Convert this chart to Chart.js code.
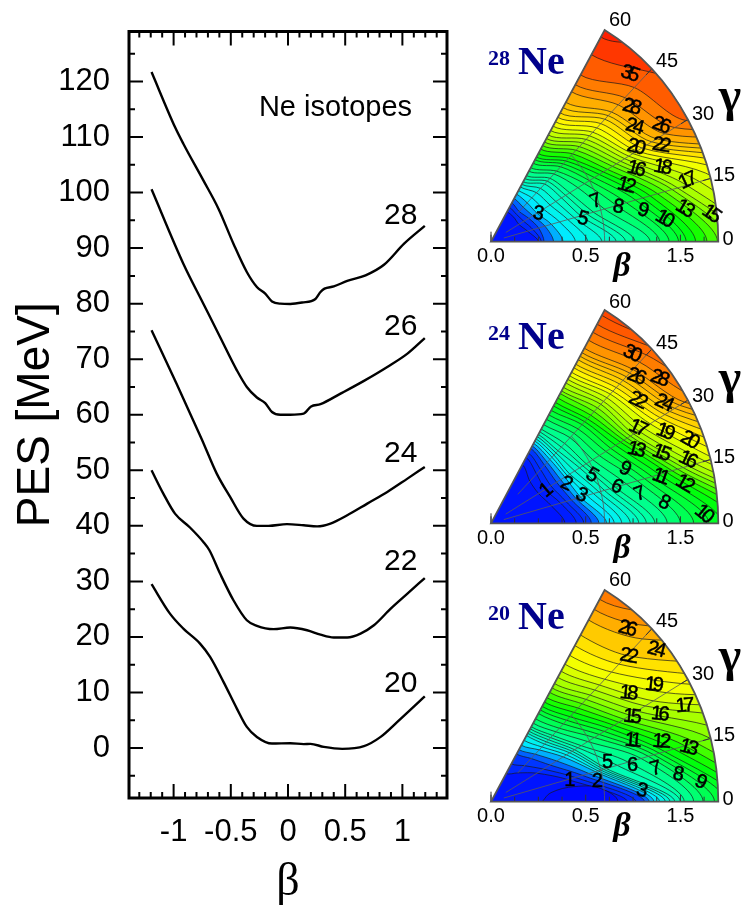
<!DOCTYPE html>
<html>
<head>
<meta charset="utf-8">
<script src="https://cdn.jsdelivr.net/npm/chart.js@4"></script>
<style>
  html, body { margin: 0; padding: 0; background: #fff; }
  #page { position: relative; width: 744px; height: 906px; overflow: hidden; }
  canvas { position: absolute; }
</style>
</head>
<body>
<div id="page">
  <canvas id="pes" width="460" height="906" style="left:0;top:0"></canvas>
  <canvas id="ne28" width="274" height="277" style="left:470px;top:5px"></canvas>
  <canvas id="ne24" width="274" height="278" style="left:470px;top:285px"></canvas>
  <canvas id="ne20" width="274" height="277" style="left:470px;top:565px"></canvas>
</div>
<script>
// left panel, PES curves (beta, MeV)
const beta28 = [-1.193,-0.988,-0.915,-0.74,-0.608,-0.477,-0.36,-0.272,-0.199,-0.14,-0.067,0.02,0.123,0.24,0.284,0.319,0.4,0.518,0.678,0.839,1.015,1.196];
const pes28 = [121.7,111.8,108.8,102.2,97.1,90.8,85.7,83,81.8,80.4,80,79.95,80.2,80.85,82.1,82.7,83.1,84.1,85.1,87,90.8,94];
const beta26 = [-1.193,-0.915,-0.74,-0.594,-0.447,-0.36,-0.272,-0.199,-0.14,-0.067,0.02,0.137,0.202,0.284,0.459,0.664,0.868,1.044,1.196];
const pes26 = [100.6,87.2,80,74,68,65,63.1,62.1,60.5,60,60,60.2,61.5,61.9,63.8,66.1,68.6,71,73.8];
const beta24 = [-1.193,-0.974,-0.754,-0.623,-0.506,-0.389,-0.272,-0.17,-0.009,0.137,0.254,0.371,0.518,0.693,0.868,1.044,1.196];
const pes24 = [75.2,65.6,55.6,49.4,45.2,41.3,40,40,40.3,40.1,39.9,40.4,41.9,44,46.1,48.5,50.6];
const beta22 = [-1.193,-1.09,-0.988,-0.857,-0.74,-0.687,-0.594,-0.477,-0.36,-0.272,-0.126,0.02,0.167,0.284,0.4,0.518,0.634,0.751,0.898,1.044,1.196];
const pes22 = [50,45.8,42.2,39.7,37.1,35.6,31.4,26.6,23,22,21.4,21.7,21.2,20.4,19.9,19.9,20.6,22.1,25.1,27.8,30.6];
const beta20 = [-1.193,-1.032,-0.915,-0.769,-0.681,-0.564,-0.447,-0.36,-0.272,-0.14,0.02,0.137,0.196,0.313,0.474,0.664,0.81,0.956,1.196];
const pes20 = [29.5,24.2,21.5,18.8,16.4,11.9,7.1,3.8,2,0.8,0.87,0.7,0.75,0.2,-0.15,0.33,2,4.7,9.3];
const curveNames = ['28','26','24','22','20'];
const curveNameY = [95.9,75.9,52.9,33.6,11.5];

// right panels: beta where each contour level crosses the rays of gammaRays
const gammaRays = [0,15,30,45,60];
const ne28Levels = [1,1.5,2,2.5,3,3.5,4,4.5,5,5.5,6,7,8,9,10,11,12,13,14,15,16,17,18,19,20,21,22,23,24,26,28,30,35,40];
const ne28Beta = [
  [.25,.2,.17,.17,.17],[.265,.23,.2,.19,.195],[.28,.26,.23,.21,.22],[.33,.295,.255,.24,.245],[.38,.33,.28,.27,.27],
  [.445,.375,.32,.305,.29],[.51,.42,.36,.34,.31],[.585,.455,.395,.37,.325],[.66,.49,.43,.4,.34],[.71,.525,.455,.42,.358],
  [.76,.56,.48,.44,.375],[.84,.62,.53,.47,.4],[.89,.686,.57,.49,.42],[.94,.74,.6,.52,.445],[.99,.79,.63,.54,.465],
  [1.03,.83,.66,.56,.48],[1.08,.87,.685,.58,.5],[1.14,.91,.71,.61,.525],[1.196,.95,.74,.635,.545],[1.26,.99,.765,.66,.565],
  [1.32,1.02,.79,.685,.585],[1.38,1.07,.815,.71,.605],[1.45,1.14,.84,.735,.63],[1.52,1.22,.865,.76,.655],[1.6,1.3,.89,.79,.68],
  [1.7,1.38,.92,.82,.705],[1.8,1.46,.95,.85,.73],[1.9,1.54,.98,.875,.76],[2,1.62,1.01,.9,.79],[2.2,1.8,1.06,.95,.85],
  [2.4,2,1.12,1,.89],[2.6,2.2,1.19,1.07,.945],[3.1,2.7,1.5,1.18,1.06],[3.6,3.2,1.9,1.4,1.16]
];
const ne28Labels = [['35',1.1,48.7,20],['28',.99,42,15],['24',.94,37,15],['26',1.06,32.7,20],['20',.89,31.5,15],['22',1.01,28,10],
  ['16',.84,25.3,15],['18',.97,22.2,10],['12',.76,21.4,15],['17',1.074,16,-25],['7',.58,19.6,-20],['8',.686,14.5,10],
  ['9',.81,11,15],['10',.917,7.2,30],['13',1.03,9.2,30],['15',1.165,6.9,35],['3',.278,30,10],['5',.49,13.5,15]];

const ne24Levels = [.5,1,1.5,2,2.5,3,3.5,4,4.5,5,5.5,6,7,8,9,10,11,12,13,14,15,16,17,18,19,20,21,22,23,24,25,26,28,30,32,34];
const ne24Beta = [
  [.39,.33,.29,.29,.33],[.45,.38,.33,.34,.37],[.49,.41,.365,.37,.395],[.53,.44,.4,.4,.42],[.57,.465,.425,.42,.435],[.61,.49,.45,.44,.45],
  [.65,.525,.465,.455,.463],[.69,.56,.48,.47,.475],[.735,.59,.51,.485,.488],[.78,.62,.54,.5,.5],[.82,.65,.56,.525,.515],
  [.865,.68,.58,.55,.53],[.93,.74,.62,.59,.555],[1,.8,.66,.62,.585],[1.07,.84,.7,.65,.61],[1.15,.88,.73,.68,.635],
  [1.22,.92,.76,.7,.66],[1.3,.96,.79,.72,.68],[1.38,.99,.81,.745,.705],[1.45,1.02,.83,.77,.73],[1.53,1.05,.85,.795,.745],
  [1.6,1.08,.87,.82,.765],[1.7,1.12,.9,.84,.79],[1.8,1.17,.93,.865,.81],[1.9,1.22,.97,.89,.83],[2,1.28,1,.91,.85],
  [2.1,1.35,1.03,.935,.875],[2.2,1.42,1.06,.96,.895],[2.3,1.5,1.09,.985,.92],[2.4,1.58,1.12,1.01,.94],[2.5,1.67,1.15,1.035,.96],
  [2.6,1.76,1.18,1.06,.985],[2.8,1.95,1.24,1.11,1.03],[3,2.2,1.32,1.16,1.075],[3.2,2.4,1.42,1.21,1.12],[3.4,2.6,1.55,1.26,1.17]
];
const ne24Labels = [['1',.325,28.6,-40],['2',.437,26.7,25],['3',.49,16.5,25],['5',.577,24.3,30],['6',.68,15.4,25],['7',.79,10.1,-20],
  ['8',.913,6.5,25],['9',.749,20.9,25],['11',.918,14.4,20],['12',1.035,10.9,30],['13',.841,25.3,15],['15',.957,21.1,20],['16',1.079,16.8,25],
  ['17',.9,31.2,25],['19',1.017,26.1,20],['20',1.12,21.4,30],['22',.976,38,25],['24',1.081,33,25],['26',1.045,43.3,20],['28',1.132,38.7,20],
  ['30',1.11,48.3,25],['10',1.12,2.5,40]];

const ne20Levels = [1,1.5,2,2.5,3,3.5,4,4.5,5,5.5,6,7,8,9,10,11,12,13,14,15,16,17,18,19,20,21,22,24,26,28];
const ne20Beta = [
  [.72,.42,.28,.2,.16],[.765,.46,.32,.25,.215],[.81,.5,.36,.3,.27],[.835,.535,.4,.33,.295],[.86,.57,.44,.36,.32],
  [.89,.585,.46,.38,.348],[.92,.6,.48,.4,.375],[.945,.615,.495,.415,.388],[.97,.63,.51,.43,.4],[1,.69,.53,.445,.413],
  [1.02,.75,.55,.46,.425],[1.07,.82,.59,.485,.445],[1.12,.86,.63,.51,.47],[1.18,.89,.66,.54,.5],[1.24,.92,.69,.565,.52],
  [1.3,.95,.72,.59,.54],[1.36,1,.75,.62,.565],[1.42,1.06,.78,.65,.59],[1.5,1.12,.81,.68,.62],[1.6,1.2,.848,.71,.645],
  [1.7,1.3,.89,.74,.67],[1.85,1.45,.94,.775,.705],[2,1.6,.99,.81,.74],[2.2,1.8,1.07,.85,.78],[2.4,2,1.16,.9,.83],
  [2.6,2.2,1.25,.955,.885],[2.8,2.4,1.36,1.015,.945],[3.2,2.8,1.6,1.13,1.03],[3.6,3.2,1.9,1.22,1.09],[4,3.6,2.2,1.32,1.147]
];
const ne20Minimum = [[.27,0],[.32,8],[.45,9.5],[.58,6.5],[.67,0],[.58,-6.5],[.45,-9.5],[.32,-8]];
const ne20Labels = [['1',.42,14.6,0],['2',.56,10,0],['3',.79,4,15],['5',.636,17.5,0],['6',.76,13.7,0],['7',.876,10.5,-15],['8',.99,7.8,10],
  ['9',1.104,5.1,25],['11',.8,22,5],['12',.94,18.3,5],['13',1.07,14.4,15],['15',.848,29.5,5],['16',.983,25.9,5],['17',1.119,24.8,-5],
  ['18',.895,36.5,5],['19',1.028,33.9,5],['22',1.015,44.8,10],['24',1.144,40.8,15],['26',1.11,50,15]];

// energy colour scale used by all three wedges
const colorEnergy = [0,2,2.7,3.3,5.5,9,12,15,20,22,26,30,35,42];
const colorRGB = [[0,10,255],[0,60,255],[0,170,255],[0,240,255],[0,255,170],[0,255,70],[0,255,0],[130,255,0],[255,255,0],[255,216,0],[255,160,0],[255,112,0],[255,72,0],[255,24,0]];

const MONO = '"Liberation Sans", Arial, sans-serif';
const SERIF = '"Liberation Serif", "Times New Roman", serif';

function energyColor(e) {
  let i = 0;
  while (i < colorEnergy.length - 2 && e > colorEnergy[i + 1]) i++;
  const t = Math.min(1, Math.max(0, (e - colorEnergy[i]) / (colorEnergy[i + 1] - colorEnergy[i])));
  const c = colorRGB[i].map((v, k) => Math.round(v + (colorRGB[i + 1][k] - v) * t));
  return `rgb(${c[0]},${c[1]},${c[2]})`;
}

function toXY(beta, gamma) {
  const a = gamma * Math.PI / 180;
  return { x: beta * Math.cos(a), y: beta * Math.sin(a) };
}

// ---- left panel ----
const boxTicks = {
  id: 'boxTicks',
  afterDraw(chart) {
    const { ctx, chartArea: a, scales: { x, y } } = chart;
    ctx.save();
    ctx.strokeStyle = '#000';
    ctx.lineWidth = 2;
    ctx.beginPath();
    for (let i = -13; i <= 13; i++) {
      const px = x.getPixelForValue(i / 10);
      const len = i % 5 === 0 ? 14 : 6;
      ctx.moveTo(px, a.top); ctx.lineTo(px, a.top + len);
      ctx.moveTo(px, a.bottom); ctx.lineTo(px, a.bottom - len);
    }
    for (let v = -5; v <= 125; v += 5) {
      const py = y.getPixelForValue(v);
      const len = v % 10 === 0 ? 14 : 6;
      ctx.moveTo(a.left, py); ctx.lineTo(a.left + len, py);
      ctx.moveTo(a.right, py); ctx.lineTo(a.right - len, py);
    }
    ctx.stroke();
    ctx.lineWidth = 3;
    ctx.strokeRect(a.left, a.top, a.right - a.left, a.bottom - a.top);
    ctx.fillStyle = '#000';
    ctx.textAlign = 'center';
    ctx.textBaseline = 'middle';
    ctx.font = '30px ' + MONO;
    curveNames.forEach((n, i) => ctx.fillText(n, x.getPixelForValue(0.985), y.getPixelForValue(curveNameY[i])));
    ctx.font = '29px ' + MONO;
    ctx.fillText('Ne isotopes', x.getPixelForValue(0.415), y.getPixelForValue(115.2));
    ctx.restore();
  }
};

function curve(label, xs, ys) {
  return {
    label, showLine: true, pointRadius: 0, borderColor: '#000', borderWidth: 2.4, cubicInterpolationMode: 'monotone',
    data: xs.map((b, i) => ({ x: b, y: ys[i] }))
  };
}

new Chart(document.getElementById('pes'), {
  type: 'scatter',
  data: {
    datasets: [curve('28', beta28, pes28), curve('26', beta26, pes26), curve('24', beta24, pes24),
      curve('22', beta22, pes22), curve('20', beta20, pes20)]
  },
  options: {
    responsive: false, animation: false,
    layout: { padding: { top: 31.5, right: 13 } },
    plugins: { legend: { display: false }, tooltip: { enabled: false } },
    scales: {
      x: {
        min: -1.39, max: 1.39,
        grid: { display: false, drawTicks: false }, border: { display: false },
        ticks: { stepSize: 0.5, includeBounds: false, maxRotation: 0, padding: 16, color: '#000', font: { family: MONO, size: 31 },
          callback(v) { return String(v); } },
        title: { display: true, text: 'β', color: '#000', font: { family: SERIF, size: 46, lineHeight: 1 }, padding: 0 },
        afterFit(axis) { axis.height = 108; axis.paddingLeft = 0; axis.paddingRight = 0; }
      },
      y: {
        min: -9, max: 129,
        grid: { display: false, drawTicks: false }, border: { display: false },
        ticks: { stepSize: 10, includeBounds: false, padding: 19, color: '#000', font: { family: MONO, size: 31 } },
        title: { display: true, text: 'PES [MeV]', color: '#000', font: { family: MONO, size: 46 }, padding: { top: 9, bottom: 0 } },
        afterFit(axis) { axis.width = 129; axis.paddingTop = 0; axis.paddingBottom = 0; }
      }
    }
  },
  plugins: [boxTicks]
});

// ---- right wedges ----
const RMAX = 1.2;
const wedgeXTicks = [0, 0.5, 1];
const wedgeXNames = ['0.0', '0.5', '1.5'];
const wedgeAngles = [['60',129,-221],['45',176,-180],['30',212,-127],['15',233,-66],['0',237,-2]];

function wedgePath(ctx, x, y) {
  const ox = x.getPixelForValue(0), oy = y.getPixelForValue(0);
  const rx = x.getPixelForValue(RMAX) - ox, ry = oy - y.getPixelForValue(RMAX);
  ctx.beginPath();
  ctx.moveTo(ox, oy);
  ctx.lineTo(ox + rx * Math.cos(Math.PI / 3), oy - ry * Math.sin(Math.PI / 3));
  ctx.ellipse(ox, oy, rx, ry, 0, -Math.PI / 3, 0);
  ctx.closePath();
}

function wedgePlugin(mass, labels, nameY) {
  return {
    id: 'wedge' + mass,
    beforeDatasetsDraw(chart) {
      const { ctx, scales: { x, y } } = chart;
      ctx.save();
      wedgePath(ctx, x, y);
      ctx.clip();
      ctx.fillStyle = energyColor(0.4);
      ctx.fillRect(0, 0, chart.width, chart.height);
    },
    afterDatasetsDraw(chart) {
      const { ctx, scales: { x, y } } = chart;
      // grey guide rays and the beta = 0.6 arc
      ctx.strokeStyle = 'rgba(90,90,90,0.8)';
      ctx.lineWidth = 1;
      ctx.beginPath();
      [[15, .07], [30, .09], [45, .2]].forEach(([g, b0]) => {
        const p = toXY(b0, g), q = toXY(RMAX, g);
        ctx.moveTo(x.getPixelForValue(p.x), y.getPixelForValue(p.y));
        ctx.lineTo(x.getPixelForValue(q.x), y.getPixelForValue(q.y));
      });
      for (let g = 0; g <= 47; g += 3) {
        const p = toXY(.6, g);
        if (g === 0) ctx.moveTo(x.getPixelForValue(p.x), y.getPixelForValue(p.y));
        else ctx.lineTo(x.getPixelForValue(p.x), y.getPixelForValue(p.y));
      }
      ctx.stroke();
      ctx.restore();

      const ox = x.getPixelForValue(0), oy = y.getPixelForValue(0);
      ctx.save();
      // bottom ticks
      ctx.strokeStyle = '#333';
      ctx.lineWidth = 1;
      ctx.beginPath();
      for (let i = 0; i <= 9; i++) {
        const px = x.getPixelForValue(i * .125);
        ctx.moveTo(px, oy);
        ctx.lineTo(px, oy - (i % 4 === 0 ? 7 : 5));
      }
      ctx.moveTo(ox, oy); ctx.lineTo(ox, oy - 10);
      [15, 30, 45].forEach(g => {
        const p = toXY(RMAX, g), q = toXY(RMAX * .965, g);
        ctx.moveTo(x.getPixelForValue(p.x), y.getPixelForValue(p.y));
        ctx.lineTo(x.getPixelForValue(q.x), y.getPixelForValue(q.y));
      });
      ctx.stroke();
      ctx.strokeStyle = '#555';
      ctx.lineWidth = 1.8;
      wedgePath(ctx, x, y);
      ctx.stroke();

      // contour numbers
      ctx.fillStyle = '#000';
      ctx.strokeStyle = '#000';
      ctx.lineWidth = 0.5;
      ctx.textAlign = 'center';
      ctx.textBaseline = 'middle';
      ctx.font = '20px ' + MONO;
      ctx.letterSpacing = '-3.5px';
      labels.forEach(([t, b, g, rot]) => {
        const p = toXY(b, g);
        ctx.save();
        ctx.translate(x.getPixelForValue(p.x), y.getPixelForValue(p.y));
        ctx.rotate(rot * Math.PI / 180);
        ctx.fillText(t, 0, 0);
        ctx.strokeText(t, 0, 0);
        ctx.restore();
      });
      ctx.letterSpacing = '0px';

      // angle labels, gamma, beta, nucleus name
      ctx.font = '20px ' + MONO;
      wedgeAngles.forEach(([t, dx, dy]) => ctx.fillText(t, ox + dx, oy + dy));
      ctx.font = 'bold 48px ' + SERIF;
      ctx.fillText('γ', ox + 239, oy - 143);
      ctx.font = 'italic bold 34px ' + SERIF;
      ctx.fillText('β', ox + 131, oy + 26);
      ctx.fillStyle = '#00008b';
      ctx.textAlign = 'left';
      ctx.font = 'bold 22px ' + SERIF;
      ctx.fillText(String(mass), ox - 3, oy + nameY - 2);
      ctx.font = 'bold 40px ' + SERIF;
      ctx.fillText('Ne', ox + 27, oy + nameY + 2);
      ctx.restore();
    }
  };
}

function contourSets(levels, rows) {
  return levels.map((lev, i) => {
    const r = rows[i];
    const next = i + 1 < levels.length ? levels[i + 1] : lev + 2;
    // mirrored past both edges so the line meets the edge square on, then closed far outside the clip
    const path = [toXY(r[3], 75)];
    for (let k = gammaRays.length - 1; k >= 0; k--) path.push(toXY(r[k], gammaRays[k]));
    path.push(toXY(r[1], -15), toXY(7, -15), toXY(7, 30), toXY(7, 75));
    return {
      label: String(lev), data: path, showLine: true, pointRadius: 0,
      borderColor: '#1a1a1a', borderWidth: 0.7, tension: 0.3, fill: 'shape',
      backgroundColor: energyColor((lev + next) / 2), order: -lev
    };
  });
}

function wedge(id, plotH, mass, levels, rows, labels, nameY, extra) {
  const el = document.getElementById(id);
  const datasets = contourSets(levels, rows).concat(extra || []);
  new Chart(el, {
    type: 'scatter',
    data: { datasets },
    options: {
      responsive: false, animation: false,
      layout: { padding: { left: 21, right: 25.7, top: 25 } },
      elements: { line: { capBezierPoints: false } },
      plugins: { legend: { display: false }, tooltip: { enabled: false } },
      scales: {
        x: {
          min: 0, max: RMAX,
          grid: { display: false, drawTicks: false }, border: { display: false },
          afterBuildTicks(axis) { axis.ticks = wedgeXTicks.map(v => ({ value: v })); },
          ticks: { autoSkip: false, maxRotation: 0, padding: 3, color: '#000', font: { family: MONO, size: 20 },
            callback(v) { return wedgeXNames[wedgeXTicks.indexOf(v)]; } },
          afterFit(axis) { axis.height = el.height - 25 - plotH; }
        },
        y: { min: 0, max: RMAX * Math.sin(Math.PI / 3), display: false }
      }
    },
    plugins: [wedgePlugin(mass, labels, nameY)]
  });
}

wedge('ne28', 211.7, 28, ne28Levels, ne28Beta, ne28Labels, -180);
wedge('ne24', 213.3, 24, ne24Levels, ne24Beta, ne24Labels, -187);
wedge('ne20', 211.7, 20, ne20Levels, ne20Beta, ne20Labels, -185, [{
  label: 'minimum', data: ne20Minimum.map(p => toXY(p[0], p[1])), showLine: true, pointRadius: 0,
  borderColor: '#1a1a1a', borderWidth: 0.7, tension: 0.4, fill: 'shape', backgroundColor: energyColor(0), order: -100
}]);
</script>
</body>
</html>
